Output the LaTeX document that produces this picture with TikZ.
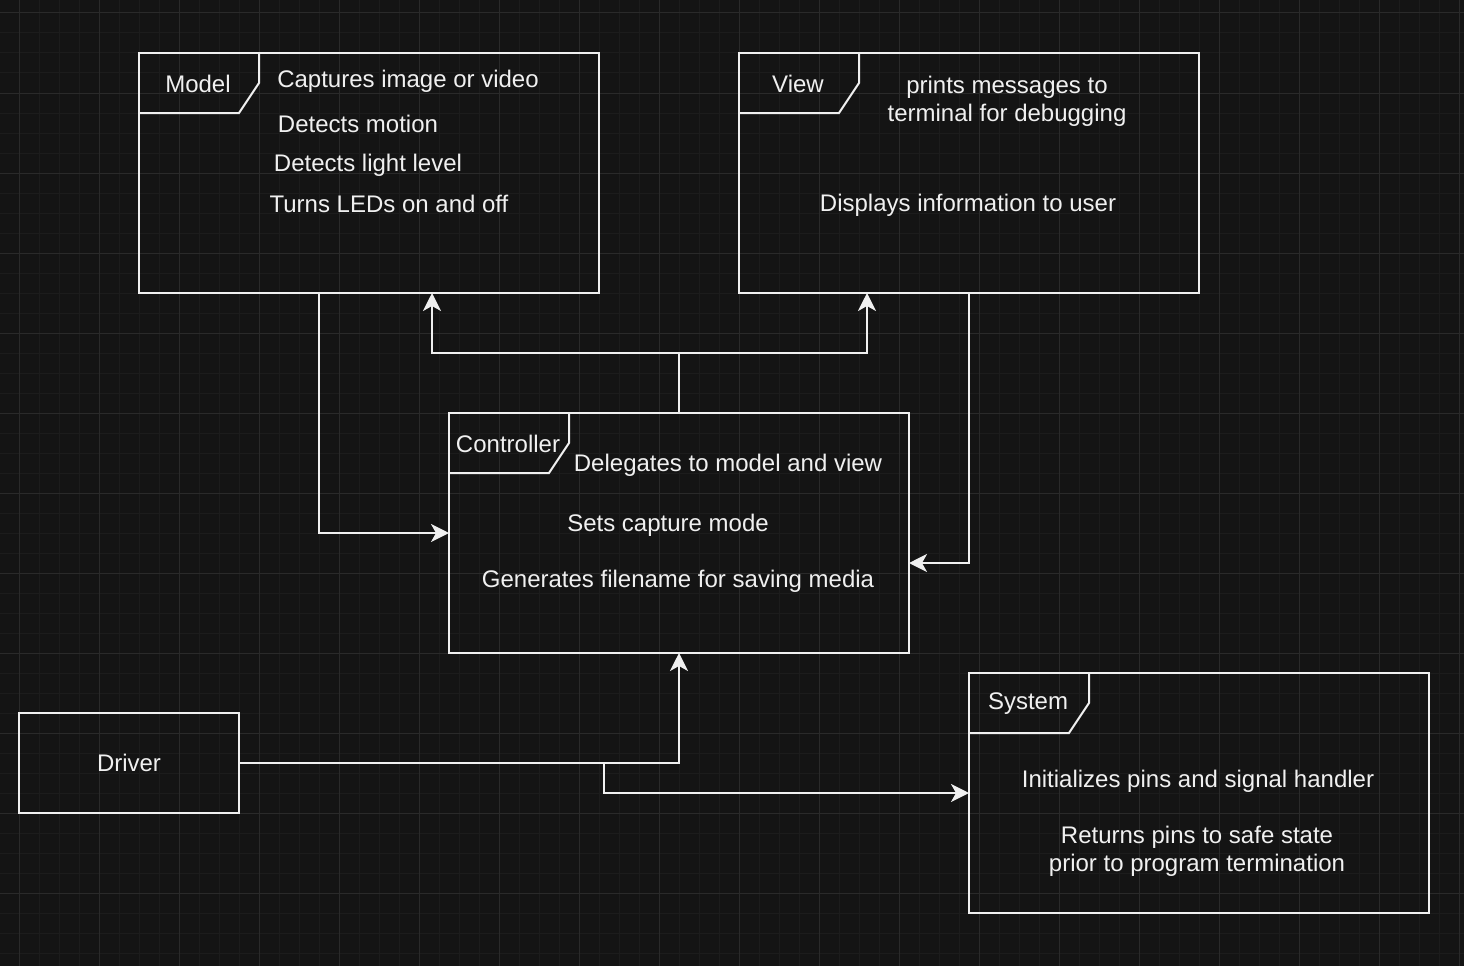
\documentclass[tikz,border=0pt]{standalone}
\usepackage{fontspec}
\setmainfont{Liberation Sans}
\usepackage{tikz}
\usetikzlibrary{positioning}
\usetikzlibrary{calc,arrows.meta}
\definecolor{bgdark}{HTML}{141414}
\definecolor{gridmaj}{HTML}{2A2A2A}
\definecolor{gridmin}{HTML}{1C1C1C}
\definecolor{fg}{HTML}{F0F0F0}
\tikzset{
  pkg_txt/.style = {align=center, inner sep=0pt, text=fg,
    font=\fontsize{24}{28}\selectfont},% texte
  pkg_box/.style = {rectangle, draw=fg, line width=2pt, inner sep=0pt,
    outer sep=0pt, minimum width=460pt, minimum height=240pt},% paquet
  drv_box/.style = {pkg_box, minimum width=220pt, minimum height=100pt},% pilote
  wire/.style = {draw=fg, line width=2pt}% connecteur
}

\begin{document}
\begin{tikzpicture}[x=1pt,y=-1pt,>={Stealth[length=18pt,width=18pt,inset=5pt]}]
\useasboundingbox (0,0) rectangle (1464,966);
\fill[bgdark] (0,0) rectangle (1464,966);
% grille
\foreach \x in {-1,19,...,1463} \draw[gridmin,line width=1pt] (\x,0) -- (\x,966);
\foreach \y in {13,33,...,966} \draw[gridmin,line width=1pt] (0,\y) -- (1464,\y);
\foreach \x in {19,99,...,1463} \draw[gridmaj,line width=1pt] (\x,0) -- (\x,966);
\foreach \y in {13,93,...,966} \draw[gridmaj,line width=1pt] (0,\y) -- (1464,\y);

% paquets
\node [pkg_box, anchor=north west] (model) at (139,53) {};
\node [pkg_box, anchor=north west] (view) at (739,53) {};
\node [pkg_box, anchor=north west] (ctrl) at (449,413) {};
\node [pkg_box, anchor=north west] (sys) at (969,673) {};
\node [drv_box, anchor=north west] (drv) at (19,713) {};
\node [pkg_txt] (drv-lbl) at (drv.center) {Driver};

\foreach \n/\t in {model/Model, view/View, ctrl/Controller, sys/System}{
  \draw[wire] (\n.north west) ++(120,0) -- ++(0,30) -- ++(-20,30) -- ++(-100,0);
  \node [pkg_txt] (\n-lbl) at ($(\n.north west)+(59,31)$) {\t};
}

% textes
\node [pkg_txt] (m1) at (408,81) {Captures image or video};
\node [pkg_txt] (m2) at (358,124) {Detects motion};
\node [pkg_txt] (m3) at (368,165) {Detects light level};
\node [pkg_txt] (m4) at (389,204) {Turns LEDs on and off};
\node [pkg_txt] (v1) at (1007,101) {prints messages to\\terminal for debugging};
\node [pkg_txt] (v2) at (968,205) {Displays information to user};
\node [pkg_txt] (c1) at (728,465) {Delegates to model and view};
\node [pkg_txt] (c2) at (668,525) {Sets capture mode};
\node [pkg_txt] (c3) at (678,581) {Generates filename for saving media};
\node [pkg_txt] (s1) at (1198,781) {Initializes pins and signal handler};
\node [pkg_txt] (s2) at (1197,851) {Returns pins to safe state\\prior to program termination};

% connecteurs
\coordinate (fork) at ($(ctrl.north)+(0,-60)$);
\draw[wire,->] ($(model.south west)+(180,0)$) |- (ctrl.west);
\draw[wire] (ctrl.north) -- (fork);
\draw[wire,->] (fork) -| ($(model.south west)+(293,0)$);
\draw[wire,->] (fork) -| ($(view.south west)+(128,0)$);
\draw[wire,->] (view.south) |- ($(ctrl.east)+(0,30)$);
\draw[wire,->] (drv.east) -| (ctrl.south);
\draw[wire,->] ($(drv.east)+(365,0)$) |- (sys.west);
\end{tikzpicture}
\end{document}
